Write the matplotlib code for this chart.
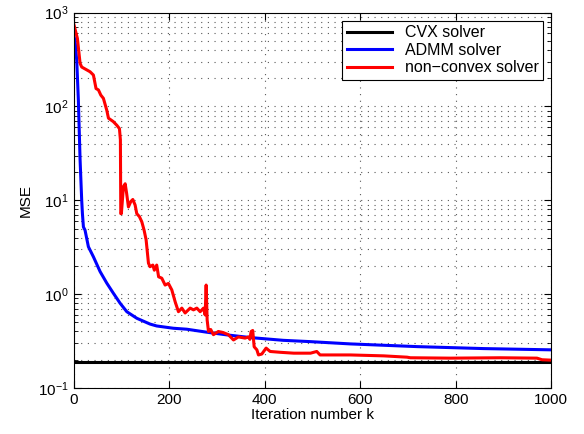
import numpy as np
import matplotlib.pyplot as plt
from matplotlib.ticker import LogLocator, NullFormatter

plt.rcParams['font.family'] = ['Liberation Sans', 'DejaVu Sans']
plt.rcParams['mathtext.fontset'] = 'custom'
plt.rcParams['mathtext.rm'] = 'Liberation Sans'
plt.rcParams['mathtext.it'] = 'Liberation Sans:italic'

# valeurs
cvx_k = [0, 1000]
cvx_mse = [0.19, 0.19]

admm_k = [1, 3, 6.6, 10, 12, 13.6, 17, 18.5, 20.6, 24, 31, 41.5, 55.5, 69.5, 83.4,
          97.4, 111.4, 132.4, 160, 174, 209, 237, 279, 321, 369, 439, 495, 579,
          719, 858, 1000]
admm_mse = [550, 513, 308, 117, 51.5, 27, 10, 7.2, 5.2, 4.8, 3.2, 2.5, 1.74, 1.31, 1.02,
            0.8, 0.65, 0.553, 0.48, 0.458, 0.433, 0.423, 0.393, 0.368, 0.345, 0.322, 0.312,
            0.295, 0.276, 0.263, 0.255]

nc_k = [1, 5.3, 8, 13.6, 17, 34.6, 41.5, 47, 52, 57, 62.4, 69.5, 73, 83, 90.5, 96, 98,
        98.8, 100, 104.4, 108, 111, 114.8, 119.8, 124, 128.8, 132.3, 137.8, 142.8, 147.6,
        151.8, 156.7, 160, 165.9, 169, 174, 178, 184.6, 191.6, 198.5, 205.6, 212.6,
        219.5, 226.6, 233.5, 244, 251, 258, 265, 272, 275.4, 277.5, 279.6, 282.4, 287,
        292.8, 303, 313, 324, 334.7, 345, 359, 366, 369, 371.7, 375, 378, 383.7, 387,
        394, 403, 411.5, 433, 461, 496, 509, 516, 579, 649, 698, 705, 788.5, 893, 970,
        980.6, 1000]
nc_mse = [736, 600, 530, 288, 263, 234, 216, 155, 150, 132, 122, 91, 75, 69, 63, 58, 44,
          7.2, 7.2, 14, 15, 11.9, 8.5, 9.7, 10.2, 8.9, 7.2, 6.7, 5.9, 4.8,
          3.8, 2.14, 1.96, 2.04, 1.8, 2.04, 1.53, 1.48, 1.25, 1.3, 1.11, 0.83,
          0.65, 0.71, 0.63, 0.71, 0.68, 0.71, 0.65, 0.71, 0.6, 1.25, 0.53, 0.40, 0.42,
          0.37, 0.40, 0.39, 0.37, 0.325, 0.35, 0.34, 0.35, 0.33, 0.40, 0.41, 0.275, 0.255, 0.225,
          0.23, 0.266, 0.245, 0.24, 0.235, 0.235, 0.245, 0.225, 0.225, 0.22, 0.213, 0.21, 0.208, 0.21, 0.208,
          0.2, 0.198]

fig = plt.figure(figsize=(5.84, 4.34), dpi=100)
ax = fig.add_axes([0.126, 0.106, 0.818, 0.865])

ax.semilogy(cvx_k, cvx_mse, color='black', lw=2.2, label='CVX solver')
ax.semilogy(admm_k, admm_mse, color='blue', lw=2.2, label='ADMM solver')
ax.semilogy(nc_k, nc_mse, color='red', lw=2.2, label='non\u2212convex solver')

ax.set_xlim(0, 1000)
ax.set_ylim(1e-1, 1e3)
ax.set_xticks(np.arange(0, 1001, 200))
ax.yaxis.set_major_locator(LogLocator(base=10, numticks=10))
ax.yaxis.set_minor_locator(LogLocator(base=10, subs=np.arange(2, 10), numticks=20))
ax.yaxis.set_minor_formatter(NullFormatter())

ax.grid(True, which='major', ls=(0, (1, 5)), color='0.35', lw=0.8)
ax.grid(True, which='minor', axis='y', ls=(0, (1, 5)), color='0.35', lw=0.8)
ax.tick_params(which='both', direction='in', top=True, right=True, labelsize=11)
ax.tick_params(which='major', length=5)
ax.tick_params(which='minor', length=3)

ax.set_xlabel('Iteration number k', fontsize=11, labelpad=1)
ax.set_ylabel('MSE', fontsize=11)

leg = ax.legend(loc='upper right', fontsize=11.5, fancybox=False, framealpha=1,
                edgecolor='black', handlelength=2.8, borderpad=0.3, labelspacing=0.15)
leg.get_frame().set_linewidth(0.8)

fig.savefig('out.png', dpi=100)
